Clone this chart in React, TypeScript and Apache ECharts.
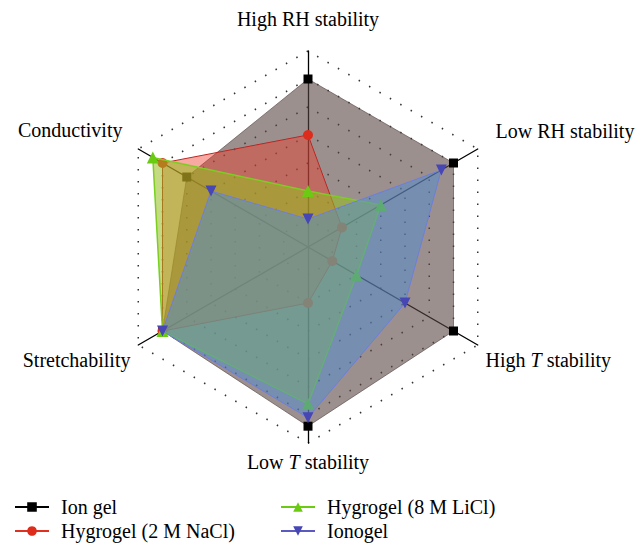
import React, { useEffect, useRef } from 'react';
import * as echarts from 'echarts';

const indicators = ['High RH stability', 'Conductivity', 'Stretchability', 'Low T stability', 'High T stability', 'Low RH stability'];
const maxValue = 7;
const seriesNames = ['Ion gel', 'Hygrogel (2 M NaCl)', 'Hygrogel (8 M LiCl)', 'Ionogel'];
const ionGel = [6, 5, 6, 6.4, 6, 6];
const naCl = [4, 6, 6, 2, 1, 1.4];
const liCl = [2, 6.4, 6, 5.6, 2, 3];
const ionogel = [1, 4, 6, 6.1, 4, 5.5];

const FONT = 'Liberation Serif';
const DOWN_TRI = 'path://M0,0 L10,0 L5,8.66 Z';

const styles = [
  { symbol: 'rect', size: 9, color: '#000000', legendLine: '#000000', line: 'rgba(70,60,60,0.6)', lineWidth: 1, area: 'rgba(90,70,68,0.6)' },
  { symbol: 'circle', size: 10, color: '#dd2b1c', legendLine: '#e03020', line: '#b02020', lineWidth: 1, area: 'rgba(240,60,40,0.44)' },
  { symbol: 'triangle', size: 12, color: '#6bcb12', legendLine: '#6bcb12', line: '#74d424', lineWidth: 1.5, area: 'rgba(150,190,30,0.55)' },
  { symbol: DOWN_TRI, size: 11, color: '#4646b4', legendLine: '#5a5ac0', line: '#7a7ae0', lineWidth: 1, area: 'rgba(80,140,210,0.5)' },
];

const values = [ionGel, naCl, liCl, ionogel];

// per-position label padding [top, right, bottom, left]
const labelPad: number[][] = [
  [0, 0, 13, 0],
  [0, 8, 29, 0],
  [21, 0, 0, 0],
  [0, 0, 0, 0],
  [21, 0, 0, 0],
  [0, 0, 27, 10],
];

export default function App() {
  const ref = useRef<HTMLDivElement>(null);
  useEffect(() => {
    document.body.style.margin = '0';
    const chart = echarts.init(ref.current!, null, { renderer: 'svg' });
    const textBase = { fontSize: 20, fontFamily: FONT, color: '#000' };
    const rich: any = {};
    labelPad.forEach((p, k) => {
      rich['n' + k] = { ...textBase, padding: p };
      rich['i' + k] = { ...textBase, padding: p, fontStyle: 'italic' };
    });
    const legendBase = {
      orient: 'vertical', top: 492, height: 60,
      itemWidth: 34, itemHeight: 12, itemGap: 4,
      selectedMode: false,
      textStyle: { ...textBase, padding: [0, 0, 0, 7] },
    };
    const option: any = {
      animation: false,
      grid: { left: 0, top: 0, width: 1, height: 1, show: false },
      xAxis: { type: 'value', show: false },
      yAxis: { type: 'value', show: false },
      radar: {
        center: [308, 247],
        radius: 196,
        startAngle: 90,
        shape: 'polygon',
        splitNumber: 7,
        indicator: indicators.map((name) => ({ name, min: 0, max: maxValue })),
        nameGap: 9,
        axisName: {
          ...textBase,
          formatter: (name: string) => {
            const k = indicators.indexOf(name);
            if (name.includes(' T ')) {
              const [a, b] = name.split(' T ');
              return `{n${k}|${a} }{i${k}|T}{n${k}| ${b}}`;
            }
            return `{n${k}|${name}}`;
          },
          rich,
        },
        axisLine: { lineStyle: { color: '#000', width: 1.3 } },
        splitLine: { lineStyle: { color: '#333', type: [1.5, 10.5], width: 1.5 } },
        splitArea: { show: false },
        axisTick: { show: false },
        axisLabel: { show: false },
      },
      legend: [
        { ...legendBase, data: [seriesNames[0], seriesNames[1]], left: 9 },
        { ...legendBase, data: [seriesNames[2], seriesNames[3]], left: 275 },
      ],
      series: [
        ...values.map((v, i) => ({
          type: 'radar',
          name: 'radar' + i,
          z: 2 + i,
          data: [
            {
              name: seriesNames[i],
              value: v,
              symbol: styles[i].symbol,
              symbolSize: styles[i].size,
              itemStyle: { color: styles[i].color },
              lineStyle: { color: styles[i].line, width: styles[i].lineWidth },
              areaStyle: { color: styles[i].area, opacity: 1 },
            },
          ],
        })),
        ...seriesNames.map((name, i) => ({
          type: 'line',
          name,
          data: [],
          symbol: styles[i].symbol,
          symbolSize: styles[i].size,
          itemStyle: { color: styles[i].color },
          lineStyle: { color: styles[i].legendLine, width: 1.5 },
        })),
      ],
    };
    chart.setOption(option);
    return () => chart.dispose();
  }, []);
  return <div ref={ref} style={{ width: 641, height: 543 }} />;
}
